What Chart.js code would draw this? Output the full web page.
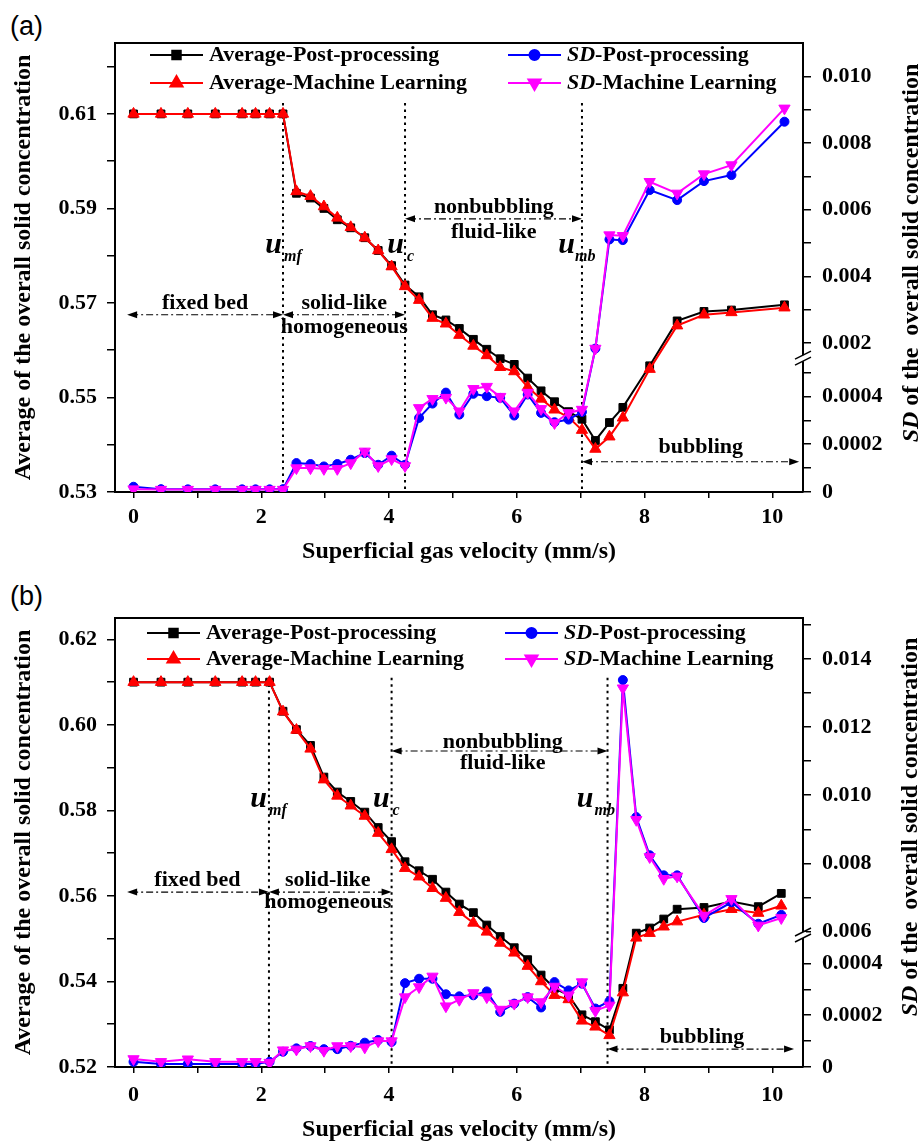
<!DOCTYPE html>
<html>
<head>
<meta charset="utf-8">
<script src="https://cdn.jsdelivr.net/npm/chart.js@4.4.0/dist/chart.umd.min.js"></script>
<style>
  html, body { margin: 0; padding: 0; background: #fff; overflow: hidden; }
  .panel { position: absolute; left: 0; }
  .tag { position: absolute; left: 10px; font: 27px "Liberation Sans", Arial, sans-serif; color: #000; }
</style>
</head>
<body>
<div class="tag" style="top:11px">(a)</div>
<canvas id="chartA" class="panel" style="top:0" width="922" height="572"></canvas>
<div class="tag" style="top:581px">(b)</div>
<canvas id="chartB" class="panel" style="top:575px" width="922" height="570"></canvas>
<script>
// ---- panel (a) data ----
const velA = [0, 0.43, 0.85, 1.28, 1.70, 1.91, 2.13, 2.34, 2.55, 2.77, 2.98, 3.19, 3.40, 3.62, 3.83, 4.04, 4.25,
  4.47, 4.68, 4.89, 5.10, 5.32, 5.53, 5.74, 5.96, 6.17, 6.38, 6.59, 6.81, 7.02, 7.23, 7.45, 7.66, 8.08, 8.51, 8.93, 9.36, 10.19];
const avgPostA = [0.61, 0.61, 0.61, 0.61, 0.61, 0.61, 0.61, 0.61, 0.5932, 0.5922, 0.5900, 0.5876, 0.5859, 0.5838, 0.5811, 0.5779, 0.5738,
  0.5713, 0.5675, 0.5664, 0.5646, 0.5623, 0.5602, 0.5582, 0.5570, 0.5541, 0.5514, 0.5491, 0.5470, 0.5454, 0.5409, 0.5447, 0.5479,
  0.5567, 0.5662, 0.5682, 0.5685, 0.5696];
const avgMLA = [0.61, 0.61, 0.61, 0.61, 0.61, 0.61, 0.61, 0.61, 0.5936, 0.5926, 0.5904, 0.5880, 0.5860, 0.5838, 0.5811, 0.5777, 0.5735,
  0.5706, 0.5668, 0.5656, 0.5632, 0.5609, 0.5589, 0.5564, 0.5555, 0.5522, 0.5497, 0.5474, 0.5458, 0.5431, 0.5391, 0.5417, 0.5457,
  0.5560, 0.5652, 0.5675, 0.5680, 0.5690];
const sdPostA = [0.000022, 0.000012, 0.000011, 0.000011, 0.000011, 0.000011, 0.000011, 0.000012, 0.000121, 0.000117, 0.000107,
  0.000117, 0.000135, 0.000163, 0.000114, 0.000152, 0.000114, 0.00031, 0.00037, 0.000416, 0.000324, 0.000411, 0.000401, 0.000394,
  0.00032, 0.000408, 0.000331, 0.000292, 0.000303, 0.000335, 0.00184, 0.00511, 0.00509, 0.00659, 0.00629, 0.00686, 0.00704, 0.00864];
const sdMLA = [0.000012, 0.00001, 0.00001, 0.00001, 0.00001, 0.00001, 0.00001, 0.00001, 0.0001, 0.0001, 0.000097,
  0.000097, 0.000121, 0.00017, 0.000109, 0.000138, 0.000109, 0.000352, 0.00039, 0.000395, 0.000338, 0.000432, 0.000441, 0.000399,
  0.000338, 0.000416, 0.000348, 0.000289, 0.000331, 0.000345, 0.00184, 0.00524, 0.00522, 0.00684, 0.00649, 0.00707, 0.00734, 0.00904];

// ---- panel (b) data ----
const velB = [0, 0.43, 0.85, 1.28, 1.70, 1.91, 2.13, 2.34, 2.55, 2.77, 2.98, 3.19, 3.40, 3.62, 3.83, 4.04, 4.25,
  4.47, 4.68, 4.89, 5.10, 5.32, 5.53, 5.74, 5.96, 6.17, 6.38, 6.59, 6.81, 7.02, 7.23, 7.45, 7.66, 7.87, 8.08, 8.30, 8.51,
  8.93, 9.36, 9.78, 10.14];
const avgPostB = [0.61, 0.61, 0.61, 0.61, 0.61, 0.61, 0.61, 0.6032, 0.5989, 0.5952, 0.5878, 0.5843, 0.5821, 0.5796, 0.5760, 0.5727,
  0.5680, 0.5659, 0.5639, 0.5609, 0.5581, 0.5561, 0.5532, 0.5505, 0.5479, 0.5451, 0.5415, 0.5384, 0.5368, 0.5322, 0.5306, 0.5287,
  0.5384, 0.5513, 0.5525, 0.5546, 0.5569, 0.5573, 0.5587, 0.5575, 0.5606];
const avgMLB = [0.61, 0.61, 0.61, 0.61, 0.61, 0.61, 0.61, 0.6031, 0.5988, 0.5944, 0.5872, 0.5834, 0.5811, 0.5787, 0.5747, 0.5709,
  0.5665, 0.5645, 0.5618, 0.5595, 0.5562, 0.5537, 0.5516, 0.5490, 0.5467, 0.5436, 0.5400, 0.5368, 0.5358, 0.5308, 0.5294, 0.5274,
  0.5374, 0.5502, 0.5513, 0.5528, 0.5540, 0.5556, 0.5569, 0.5560, 0.5577];
const sdPostB = [0.00002, 0.000012, 0.000012, 0.000012, 0.000012, 0.000012, 0.00002, 0.000059, 0.000072, 0.000081, 0.000069,
  0.000069, 0.000082, 0.000094, 0.000104, 0.000097, 0.000324, 0.000341, 0.000341, 0.000281, 0.000273, 0.000277, 0.000292,
  0.000213, 0.000245, 0.00027, 0.00023, 0.000328, 0.000296, 0.000322, 0.000226, 0.000254, 0.01338, 0.00936, 0.00824, 0.00765,
  0.00765, 0.0064, 0.00686, 0.00623, 0.00649];
const sdMLB = [0.000031, 0.00002, 0.00003, 0.00002, 0.00002, 0.00002, 0.000017, 0.000065, 0.000068, 0.000081, 0.000063,
  0.000081, 0.000081, 0.000076, 0.0001, 0.0001, 0.00027, 0.000309, 0.00035, 0.000235, 0.00026, 0.000286, 0.00027,
  0.000222, 0.000245, 0.00027, 0.000251, 0.000311, 0.000277, 0.000328, 0.000217, 0.000238, 0.01314, 0.00928, 0.00819, 0.00755,
  0.00762, 0.00647, 0.00696, 0.00618, 0.0064];

// ---- ticks ----
const xTicks = [0, 1, 2, 3, 4, 5, 6, 7, 8, 9, 10];
const xLabels = ['0', '', '2', '', '4', '', '6', '', '8', '', '10'];
const leftTicksA = [0.53, 0.54, 0.55, 0.56, 0.57, 0.58, 0.59, 0.60, 0.61, 0.62];
const leftLabelsA = ['0.53', '', '0.55', '', '0.57', '', '0.59', '', '0.61', ''];
const leftTicksB = [0.52, 0.53, 0.54, 0.55, 0.56, 0.57, 0.58, 0.59, 0.60, 0.61, 0.62];
const leftLabelsB = ['0.52', '', '0.54', '', '0.56', '', '0.58', '', '0.60', '', '0.62'];
const sdTicksA = [0, 0.0001, 0.0002, 0.0003, 0.0004, 0.0005, 0.002, 0.003, 0.004, 0.005, 0.006, 0.007, 0.008, 0.009, 0.010];
const sdLabelsA = ['0', '', '0.0002', '', '0.0004', '', '0.002', '', '0.004', '', '0.006', '', '0.008', '', '0.010'];
const sdTicksB = [0, 0.0001, 0.0002, 0.0003, 0.0004, 0.006, 0.007, 0.008, 0.009, 0.010, 0.011, 0.012, 0.013, 0.014, 0.015];
const sdLabelsB = ['0', '', '0.0002', '', '0.0004', '0.006', '', '0.008', '', '0.010', '', '0.012', '', '0.014', ''];

// transition velocities u_mf, u_c, u_mb
const transA = [2.34, 4.25, 7.02];
const transB = [2.12, 4.04, 7.42];

const SERIF = '"Liberation Serif", "Times New Roman", serif';
Chart.defaults.font.family = SERIF;
Chart.defaults.font.weight = 'bold';
Chart.defaults.font.size = 22;
Chart.defaults.color = '#000';

// linear axis with a gap: lower part [min, lowMax], upper part [highMin, max]
class BrokenScale extends Chart.LinearScale {
  static id = 'broken';
  static defaults = Chart.LinearScale.defaults;
  getPixelForValue(value) {
    const o = this.options;
    const lowPx = this.height * o.split;
    if (value <= o.lowMax) {
      return this.bottom - (value - this.min) / (o.lowMax - this.min) * lowPx;
    }
    return this.bottom - lowPx - (value - o.highMin) / (this.max - o.highMin) * (this.height - lowPx);
  }
}
Chart.register(BrokenScale);

function pts(xs, ys) {
  return xs.map((x, i) => ({ x: x, y: ys[i] }));
}

function arrowHead(ctx, x, y, dir) {
  ctx.beginPath();
  ctx.moveTo(x, y);
  ctx.lineTo(x - dir * 10, y - 3.5);
  ctx.lineTo(x - dir * 10, y + 3.5);
  ctx.closePath();
  ctx.fill();
}

function makeDecor(c) {
  return {
    id: 'decor',
    beforeDatasetsDraw(chart) {
      const { ctx, chartArea: a, scales } = chart;
      ctx.save();
      ctx.strokeStyle = '#000';
      ctx.lineWidth = 2;
      ctx.setLineDash([2.5, 4]);
      c.regimes.forEach(r => {
        const px = scales.x.getPixelForValue(r.v);
        ctx.beginPath();
        ctx.moveTo(px, scales.y.getPixelForValue(c.dotTop));
        ctx.lineTo(px, a.bottom);
        ctx.stroke();
      });
      ctx.restore();
    },
    afterDraw(chart) {
      const { ctx, chartArea: a, scales } = chart;
      const x = scales.x, y = scales.y, sd = scales.sd;
      ctx.save();
      ctx.fillStyle = '#000';
      ctx.strokeStyle = '#000';

      // top frame
      ctx.lineWidth = 2;
      ctx.beginPath();
      ctx.moveTo(a.left - 1, a.top);
      ctx.lineTo(a.right + 1, a.top);
      ctx.stroke();

      // axis break marks
      const by = sd.bottom - sd.height * c.split;
      const bx = a.right;
      ctx.fillStyle = '#fff';
      ctx.fillRect(bx - 3, by - 3, 6, 6);
      ctx.fillStyle = '#000';
      ctx.lineWidth = 1.5;
      [-3, 3].forEach(d => {
        ctx.beginPath();
        ctx.moveTo(bx - 8, by + d + 4);
        ctx.lineTo(bx + 8, by + d - 4);
        ctx.stroke();
      });

      // regime arrows
      ctx.lineWidth = 1.2;
      ctx.setLineDash([7, 3, 2, 3]);
      c.arrows.forEach(ar => {
        const x0 = x.getPixelForValue(ar.x0), x1 = x.getPixelForValue(ar.x1), py = y.getPixelForValue(ar.y);
        ctx.beginPath();
        ctx.moveTo(x0 + 4, py);
        ctx.lineTo(x1 - 4, py);
        ctx.stroke();
      });
      ctx.setLineDash([]);
      c.arrows.forEach(ar => {
        const py = y.getPixelForValue(ar.y);
        arrowHead(ctx, x.getPixelForValue(ar.x0), py, -1);
        arrowHead(ctx, x.getPixelForValue(ar.x1), py, 1);
      });

      // regime names
      ctx.font = 'bold 22px ' + SERIF;
      ctx.textAlign = 'center';
      ctx.textBaseline = 'middle';
      c.texts.forEach(t => ctx.fillText(t.t, x.getPixelForValue(t.x), y.getPixelForValue(t.y)));

      // u labels
      ctx.textBaseline = 'alphabetic';
      c.regimes.forEach(r => {
        const px = x.getPixelForValue(r.v), py = y.getPixelForValue(c.uY);
        ctx.font = 'italic bold 30px ' + SERIF;
        ctx.textAlign = 'right';
        ctx.fillText('u', px + r.uDx, py);
        ctx.font = 'italic bold 16px ' + SERIF;
        ctx.textAlign = 'left';
        ctx.fillText(r.sub, px + r.sDx, py + 8);
      });

      // legend
      ctx.textBaseline = 'middle';
      ctx.textAlign = 'left';
      c.legend.forEach(item => {
        const ds = chart.data.datasets.find(d => d.label === item.label);
        const lx = a.left + item.dx, ly = a.top + item.dy;
        ctx.strokeStyle = ds.borderColor;
        ctx.fillStyle = ds.borderColor;
        ctx.lineWidth = 2;
        ctx.beginPath();
        ctx.moveTo(lx, ly);
        ctx.lineTo(lx + 53, ly);
        ctx.stroke();
        Chart.helpers.drawPoint(ctx, { pointStyle: ds.pointStyle, rotation: ds.pointRotation, radius: ds.pointRadius + 0.5, borderWidth: 1 }, lx + 26.5, ly);
        ctx.fillStyle = '#000';
        let tx = lx + 59;
        let txt = item.label;
        if (txt.startsWith('SD')) {
          ctx.font = 'italic bold 22px ' + SERIF;
          ctx.fillText('SD', tx, ly);
          tx += ctx.measureText('SD').width;
          txt = txt.slice(2);
        }
        ctx.font = 'bold 22px ' + SERIF;
        ctx.fillText(txt, tx, ly);
      });

      // right axis title
      ctx.translate(c.rtX, c.rtY);
      ctx.rotate(-Math.PI / 2);
      const f1 = 'italic bold 24px ' + SERIF, f2 = 'bold 24px ' + SERIF;
      const rest = ' of the  overall solid concentration';
      ctx.font = f1;
      const w1 = ctx.measureText('SD').width;
      ctx.font = f2;
      const w2 = ctx.measureText(rest).width;
      const sx = -(w1 + w2) / 2;
      ctx.font = f1;
      ctx.fillText('SD', sx, 0);
      ctx.font = f2;
      ctx.fillText(rest, sx + w1, 0);
      ctx.restore();
    }
  };
}

function makeChart(id, c) {
  const series = [
    { label: 'SD-Machine Learning', ys: c.sdML, color: '#ff00ff', style: 'triangle', rot: 180, r: 6.5, axis: 'sd' },
    { label: 'SD-Post-processing', ys: c.sdPost, color: '#0000ff', style: 'circle', rot: 0, r: 4.5, axis: 'sd' },
    { label: 'Average-Machine Learning', ys: c.avgML, color: '#ff0000', style: 'triangle', rot: 0, r: 6.5, axis: 'y' },
    { label: 'Average-Post-processing', ys: c.avgPost, color: '#000000', style: 'rect', rot: 0, r: 5.5, axis: 'y' }
  ];
  const tickFont = { size: 22, weight: 'bold' };
  const grid = { drawOnChartArea: false, drawTicks: true, tickLength: 8, color: '#000', lineWidth: 1.5 };
  const border = { display: true, color: '#000', width: 2 };

  return new Chart(document.getElementById(id), {
    type: 'line',
    data: {
      datasets: series.map(s => ({
        label: s.label,
        data: pts(c.vel, s.ys),
        yAxisID: s.axis,
        borderColor: s.color,
        backgroundColor: s.color,
        borderWidth: 2,
        pointStyle: s.style,
        pointRotation: s.rot,
        pointRadius: s.r,
        pointBackgroundColor: s.color,
        pointBorderColor: s.color,
        pointBorderWidth: 1,
        tension: 0,
        fill: false
      }))
    },
    options: {
      responsive: false,
      animation: false,
      devicePixelRatio: 1,
      events: [],
      layout: { padding: { top: 43, left: 0, right: 0, bottom: 0 } },
      plugins: { legend: { display: false }, tooltip: { enabled: false } },
      scales: {
        x: {
          type: 'linear', min: -0.29, max: 10.48,
          afterBuildTicks: s => { s.ticks = xTicks.map(v => ({ value: v })); },
          ticks: { callback: (v, i) => xLabels[i], autoSkip: false, maxRotation: 0, padding: c.xTickPad, font: tickFont },
          grid: Object.assign({}, grid, { tickLength: 6 }),
          border: border,
          title: { display: true, text: 'Superficial gas velocity (mm/s)', padding: { top: 0, bottom: c.xTitlePad }, font: { size: 24, weight: 'bold' } },
          afterFit: s => { s.height = c.xAxisH; }
        },
        y: {
          type: 'linear', position: 'left', min: c.yMin, max: c.yMax,
          afterBuildTicks: s => { s.ticks = c.leftTicks.map(v => ({ value: v })); },
          ticks: { callback: (v, i) => c.leftLabels[i], autoSkip: false, padding: 10, font: tickFont },
          grid: grid,
          border: border,
          title: { display: true, text: 'Average of the overall solid concentration', padding: { top: 9, bottom: 0 }, font: { size: 24, weight: 'bold' } },
          afterFit: s => { s.width = 115; }
        },
        sd: {
          type: 'broken', position: 'right', min: 0, max: c.sdMax,
          lowMax: c.lowMax, highMin: c.highMin, split: c.split,
          afterBuildTicks: s => { s.ticks = c.sdTicks.map(v => ({ value: v })); },
          ticks: { callback: (v, i) => c.sdLabels[i], autoSkip: false, padding: 11, font: tickFont },
          grid: grid,
          border: border,
          afterFit: s => { s.width = 119; }
        }
      }
    },
    plugins: [makeDecor(c)]
  });
}

makeChart('chartA', {
  vel: velA, avgPost: avgPostA, avgML: avgMLA, sdPost: sdPostA, sdML: sdMLA,
  yMin: 0.53, yMax: 0.625, leftTicks: leftTicksA, leftLabels: leftLabelsA,
  sdMax: 0.011, lowMax: 0.00056, highMin: 0.00155, split: 0.298, sdTicks: sdTicksA, sdLabels: sdLabelsA,
  xAxisH: 80, xTickPad: 6, xTitlePad: 6,
  dotTop: 0.6123, uY: 0.5806,
  regimes: [
    { v: transA[0], sub: 'mf', uDx: -1, sDx: 1 },
    { v: transA[1], sub: 'c', uDx: -1, sDx: 2 },
    { v: transA[2], sub: 'mb', uDx: -7, sDx: -7 }
  ],
  arrows: [
    { x0: -0.1, x1: transA[0], y: 0.5675 },
    { x0: transA[0], x1: transA[1], y: 0.5675 },
    { x0: transA[1], x1: transA[2], y: 0.5878 },
    { x0: transA[2], x1: 10.42, y: 0.5364 }
  ],
  texts: [
    { t: 'fixed bed', x: 1.12, y: 0.5700 },
    { t: 'solid-like', x: 3.30, y: 0.5700 },
    { t: 'homogeneous', x: 3.30, y: 0.5649 },
    { t: 'nonbubbling', x: 5.64, y: 0.5903 },
    { t: 'fluid-like', x: 5.64, y: 0.5850 },
    { t: 'bubbling', x: 8.88, y: 0.5395 }
  ],
  legend: [
    { label: 'Average-Post-processing', dx: 35, dy: 12 },
    { label: 'Average-Machine Learning', dx: 35, dy: 40 },
    { label: 'SD-Post-processing', dx: 393, dy: 12 },
    { label: 'SD-Machine Learning', dx: 393, dy: 40 }
  ],
  rtX: 912, rtY: 253
});

makeChart('chartB', {
  vel: velB, avgPost: avgPostB, avgML: avgMLB, sdPost: sdPostB, sdML: sdMLB,
  yMin: 0.52, yMax: 0.625, leftTicks: leftTicksB, leftLabels: leftLabelsB,
  sdMax: 0.0152, lowMax: 0.00051, highMin: 0.0059, split: 0.294, sdTicks: sdTicksB, sdLabels: sdLabelsB,
  xAxisH: 78, xTickPad: 9, xTitlePad: 1,
  dotTop: 0.6110, uY: 0.5808,
  regimes: [
    { v: transB[0], sub: 'mf', uDx: -2, sDx: 0 },
    { v: transB[1], sub: 'c', uDx: -2, sDx: 1 },
    { v: transB[2], sub: 'mb', uDx: -14, sDx: -13 }
  ],
  arrows: [
    { x0: -0.1, x1: transB[0], y: 0.5609 },
    { x0: transB[0], x1: transB[1], y: 0.5609 },
    { x0: transB[1], x1: transB[2], y: 0.5939 },
    { x0: transB[2], x1: 10.34, y: 0.5242 }
  ],
  texts: [
    { t: 'fixed bed', x: 1.0, y: 0.5637 },
    { t: 'solid-like', x: 3.04, y: 0.5637 },
    { t: 'homogeneous', x: 3.04, y: 0.5584 },
    { t: 'nonbubbling', x: 5.78, y: 0.5960 },
    { t: 'fluid-like', x: 5.78, y: 0.5911 },
    { t: 'bubbling', x: 8.90, y: 0.5270 }
  ],
  legend: [
    { label: 'Average-Post-processing', dx: 32, dy: 15 },
    { label: 'Average-Machine Learning', dx: 32, dy: 41 },
    { label: 'SD-Post-processing', dx: 390, dy: 15 },
    { label: 'SD-Machine Learning', dx: 390, dy: 41 }
  ],
  rtX: 911, rtY: 252
});
</script>
</body>
</html>
